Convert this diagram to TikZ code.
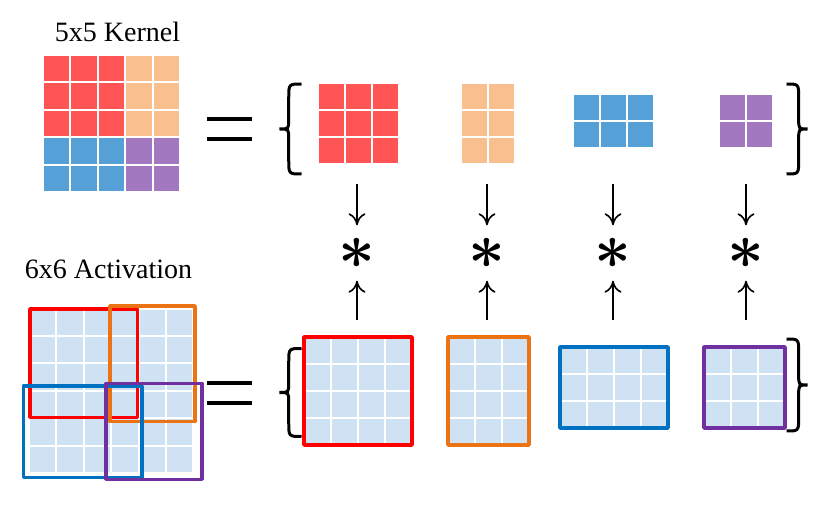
\documentclass[tikz,border=0pt]{standalone}
\usepackage{fontspec}
\setmainfont{Liberation Serif}
\usetikzlibrary{arrows.meta}
\definecolor{kred}{HTML}{FF5555}
\definecolor{kpeach}{HTML}{F9BF8F}
\definecolor{kblue}{HTML}{55A0D6}
\definecolor{kpurple}{HTML}{A278C0}
\definecolor{actblue}{HTML}{CFE2F3}
\definecolor{fred}{HTML}{FF0000}
\definecolor{forange}{HTML}{EB7314}
\definecolor{fblue}{HTML}{0070C0}
\definecolor{fpurple}{HTML}{7030A0}
\def\cellgrid[#1](#2,#3)(#4,#5,#6){\fill[#1] (#2,#3) rectangle ++({#4*#6},{#5*#6});
	\draw[white, line width=2pt, shift={(#2,#3)}, xstep=#6pt, ystep=#6pt] (0,0) grid ({#4*#6},{#5*#6});}
\def\curlybrace[#1](#2,#3)(#4,#5){\draw[#1] ({#2+#4},{#3+#5}) .. controls ({#2+0.42*#4},{#3+#5}) .. ({#2+0.42*#4},{#3+#5-14}) -- ({#2+0.42*#4},{#3+10}) .. controls ({#2+0.42*#4},{#3}) .. (#2,#3) .. controls ({#2+0.42*#4},{#3}) .. ({#2+0.42*#4},{#3-10}) -- ({#2+0.42*#4},{#3-#5+14}) .. controls ({#2+0.42*#4},{#3-#5}) .. ({#2+#4},{#3-#5});}

\begin{document}
\begin{tikzpicture}[x=1pt, y=1pt,
	frame/.style={line width=3.5pt, line join=round},
	arr/.style={line width=1.6pt, -{Computer Modern Rightarrow[length=12pt,width=17pt]}},
	star/.style={inner sep=0pt, minimum width=30pt, minimum height=55pt}]
		%%%%% START %%%%%
		\useasboundingbox (0,0) rectangle (831,504);
		
		\node[anchor=base, font=\fontsize{28}{32}\selectfont] (kernel) at (117.5,462) {5x5 Kernel};
		\cellgrid[kred](43,366.8)(3,3,27.4)
		\cellgrid[kpeach](125.2,366.8)(2,3,27.4)
		\cellgrid[kblue](43,312)(3,2,27.4)
		\cellgrid[kpurple](125.2,312)(2,2,27.4)
		
		\draw[line width=4pt] (207,385) -- (252,385);
		\draw[line width=4pt] (207,365) -- (252,365);
		
		\curlybrace[line width=3pt](279.5,375)(22,45)
		\cellgrid[kred](318,340)(3,3,27)
		\cellgrid[kpeach](461,340)(2,3,27)
		\cellgrid[kblue](573,356)(3,2,27)
		\cellgrid[kpurple](719,356)(2,2,27)
		\curlybrace[line width=3pt](807.5,375)(-21,45)
		
		\node[star] (s1) at (357,251) {\scalebox{6.4}{\boldmath$\ast$}};
		\node[star] (s2) at (487,251) {\scalebox{6.4}{\boldmath$\ast$}};
		\node[star] (s3) at (613,251) {\scalebox{6.4}{\boldmath$\ast$}};
		\node[star] (s4) at (746,251) {\scalebox{6.4}{\boldmath$\ast$}};
		\coordinate (d1) at (357,320);
		\coordinate (d2) at (487,320);
		\coordinate (d3) at (613,320);
		\coordinate (d4) at (746,320);
		\coordinate (u1) at (357,184);
		\coordinate (u2) at (487,184);
		\coordinate (u3) at (613,184);
		\coordinate (u4) at (746,184);
		\draw[arr] (d1) -- (s1);
		\draw[arr] (d2) -- (s2);
		\draw[arr] (d3) -- (s3);
		\draw[arr] (d4) -- (s4);
		\draw[arr] (u1) -- (s1);
		\draw[arr] (u2) -- (s2);
		\draw[arr] (u3) -- (s3);
		\draw[arr] (u4) -- (s4);
		
		\node[anchor=base, font=\fontsize{28}{32}\selectfont] (activation) at (108.5,225) {6x6 Activation};
		\cellgrid[actblue](29,31)(6,6,27.4)
		\draw[frame, fred] (30,195) rectangle (137.3,86.7);
		\draw[frame, forange] (110,198) rectangle (195,82.5);
		\draw[frame, fblue] (23.3,118) rectangle (142,26.3);
		\draw[frame, fpurple] (106,120.7) rectangle (202,24.7);
		
		\draw[line width=4pt] (207,120.5) -- (252,120.5);
		\draw[line width=4pt] (207,100.5) -- (252,100.5);
		
		\curlybrace[line width=3pt](279.5,111.5)(22,44)
		\cellgrid[actblue](304,59)(4,4,27)
		\draw[frame, fred] (304,59) rectangle (412,167);
		\cellgrid[actblue](448,59)(3,4,27)
		\draw[frame, forange] (448,59) rectangle (529,167);
		\cellgrid[actblue](560,76)(4,3,27)
		\draw[frame, fblue] (560,76) rectangle (668,157);
		\cellgrid[actblue](704,76)(3,3,27)
		\draw[frame, fpurple] (704,76) rectangle (785,157);
		\curlybrace[line width=3pt](807.5,119)(-21,46)
		
		%%%%% END %%%%%
	\end{tikzpicture}
\end{document}
